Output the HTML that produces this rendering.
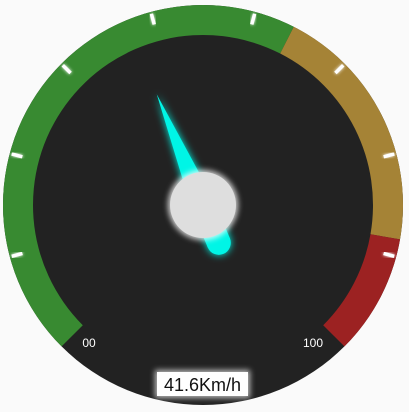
<!DOCTYPE html>
<html><head><meta charset="utf-8"><style>
html,body{margin:0;padding:0;background:#fafafa;width:409px;height:412px;overflow:hidden;font-family:"Liberation Sans",sans-serif}
</style></head><body>
<svg id="g" width="409" height="412" viewBox="0 0 409 412" xmlns="http://www.w3.org/2000/svg">
<defs>
<filter id="glow" x="-50%" y="-50%" width="200%" height="200%"><feGaussianBlur stdDeviation="4" result="b"/><feMerge><feMergeNode in="b"/><feMergeNode in="SourceGraphic"/></feMerge></filter>
<filter id="tglow" x="-50%" y="-50%" width="200%" height="200%"><feGaussianBlur stdDeviation="1.5" result="b"/><feMerge><feMergeNode in="b"/><feMergeNode in="SourceGraphic"/></feMerge></filter>
<filter id="kglow" x="-50%" y="-50%" width="200%" height="200%"><feGaussianBlur stdDeviation="3"/></filter>
</defs>
<circle cx="203" cy="205" r="200" fill="#222"/>
<g id="arcs"></g><g id="ticks"></g>
<text x="89" y="347" fill="#fff" font-size="12" text-anchor="middle">00</text>
<text x="313" y="347" fill="#fff" font-size="12" text-anchor="middle">100</text>
<g id="needle" filter="url(#glow)"></g>
<circle cx="203" cy="205" r="35" fill="#fff" opacity="0.8" filter="url(#kglow)"/>
<circle cx="203" cy="205" r="33" fill="#dedede"/>
<rect x="155" y="370" width="95" height="28" fill="#fff" opacity="0.7" filter="url(#kglow)"/>
<rect x="157" y="372" width="91" height="24" fill="#fff"/>
<text x="202.5" y="391" font-size="18" text-anchor="middle" fill="#111">41.6Km/h</text>
</svg>
<script>
const segEnds=[0,60,87,100];
const segColors=['#388a31','#a58336','#9c2222'];
const tickValues=[11.1,22.2,33.3,44.4,55.6,66.7,77.8,88.9];
const speedValue=41.6;
const maxValue=100;
const cx=203,cy=205,R=200,r=170,NS='http://www.w3.org/2000/svg';
function ang(v){return (135+v/maxValue*270)*Math.PI/180;}
function pt(v,rad){const a=ang(v);return [cx+rad*Math.cos(a),cy+rad*Math.sin(a)];}
const arcs=document.getElementById('arcs');
for(let i=0;i<segColors.length;i++){
 const a=segEnds[i],b=segEnds[i+1];
 const p1=pt(a,R),p2=pt(b,R),p3=pt(b,r),p4=pt(a,r);
 const large=(b-a)/maxValue*270>180?1:0;
 const p=document.createElementNS(NS,'path');
 p.setAttribute('d',`M${p1} A${R} ${R} 0 ${large} 1 ${p2} L${p3} A${r} ${r} 0 ${large} 0 ${p4}Z`);
 p.setAttribute('fill',segColors[i]);
 
 
 arcs.appendChild(p);
}
const ticks=document.getElementById('ticks');
tickValues.forEach((v,i)=>{
 const a=pt(v,198),b=pt(v,187);
 const l=document.createElementNS(NS,'line');
 l.setAttribute('x1',a[0]);l.setAttribute('y1',a[1]);l.setAttribute('x2',b[0]);l.setAttribute('y2',b[1]);
 l.setAttribute('stroke','#fff');l.setAttribute('stroke-width','3.5');l.setAttribute('filter','url(#tglow)');
 
 
 ticks.appendChild(l);
});
const nd=document.getElementById('needle');
const a=ang(speedValue),ux=Math.cos(a),uy=Math.sin(a),px=-uy,py=ux;
const tip=[cx+ux*120,cy+uy*120],tail=[cx-ux*41,cy-uy*41];
const poly=document.createElementNS(NS,'polygon');
poly.setAttribute('points',`${tip} ${cx+px*12},${cy+py*12} ${tail[0]+px*12},${tail[1]+py*12} ${tail[0]-px*12},${tail[1]-py*12} ${cx-px*12},${cy-py*12}`);
poly.setAttribute('fill','#00f5e6');


nd.appendChild(poly);
const tc=document.createElementNS(NS,'circle');
tc.setAttribute('cx',tail[0]);tc.setAttribute('cy',tail[1]);tc.setAttribute('r','12');tc.setAttribute('fill','#00f5e6');


nd.appendChild(tc);
</script>
</body></html>
